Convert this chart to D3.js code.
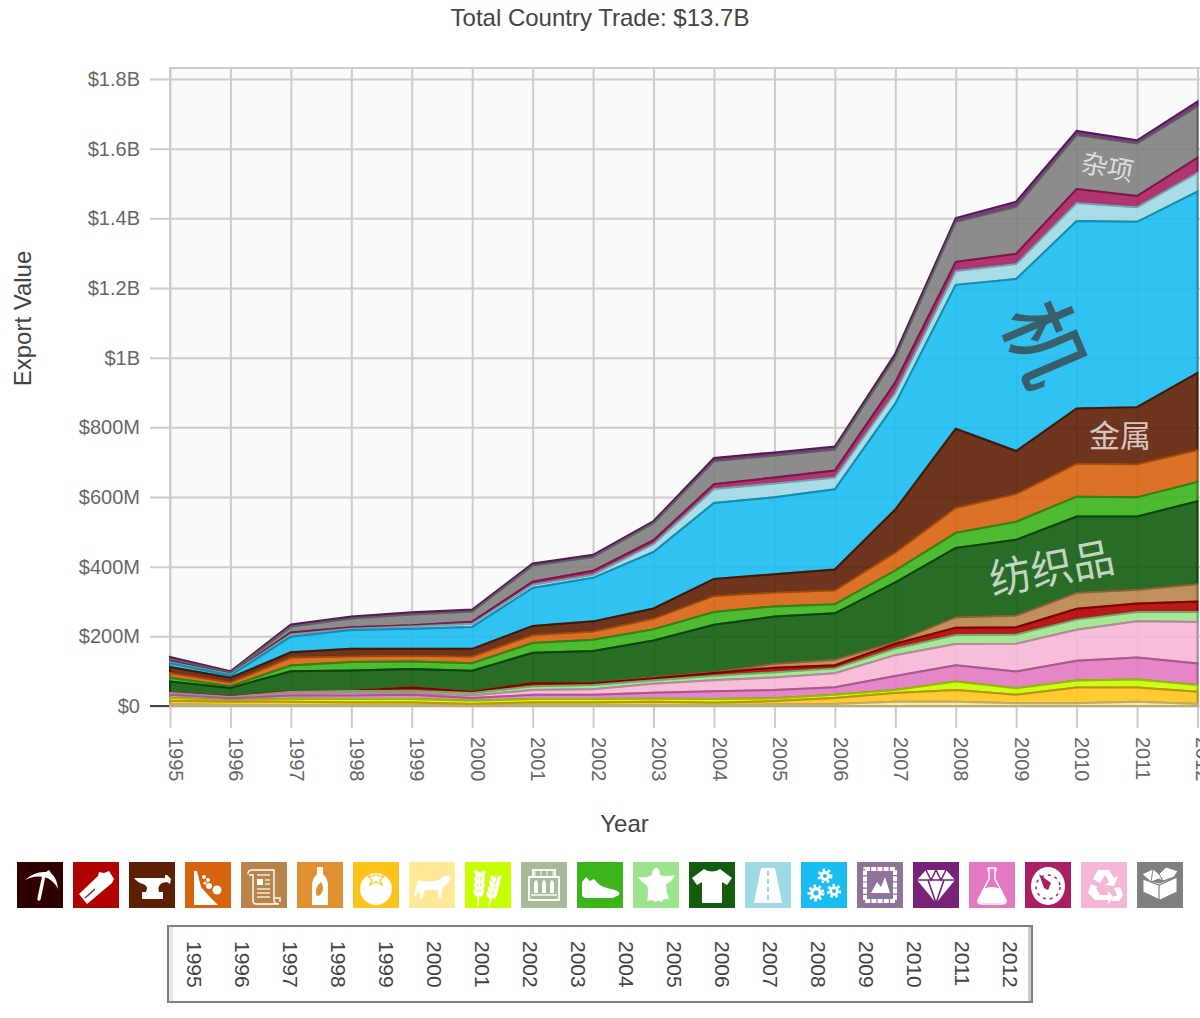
<!DOCTYPE html>
<html><head><meta charset="utf-8">
<style>html,body{margin:0;padding:0;background:#fff;overflow:hidden}svg{display:block}
text{font-family:"Liberation Sans",Helvetica,Arial,sans-serif}</style>
<script src="https://d3js.org/d3.v7.min.js"></script></head><body>
<svg id="c" width="1200" height="1018"></svg>
<script>
const years=[1995,1996,1997,1998,1999,2000,2001,2002,2003,2004,2005,2006,2007,2008,2009,2010,2011,2012];
const yTickValues=[0,200,400,600,800,1000,1200,1400,1600,1800];
const yTickLabels=["$0","$200M","$400M","$600M","$800M","$1B","$1.2B","$1.4B","$1.6B","$1.8B"];
// stacked series, bottom to top, in $M
const animal    =[5,3,3,3,3,1,3,3,3,3,4,6,12,12,8,8,12,6];
const vegetable =[10,9,9,7,7,5,7,7,9,6,10,17,25,34,24,45,41,35];
const cereal    =[9,4,9,10,10,9,10,10,9,11,8,9,9,24,19,20,23,19];
const chemicals =[8,6,9,10,12,8,12,12,17,22,24,22,40,47,48,57,63,62];
const recycled  =[4,3,6,7,5,7,14,16,26,32,36,40,60,61,80,89,104,119];
const hides     =[1,1,5,6,7,7,11,12,10,13,15,14,19,26,26,29,27,29];
const wood      =[0,1,1,1,9,4,8,5,6,8,13,9,14,21,21,31,24,30];
const paper     =[0,1,1,1,1,1,1,1,3,2,11,16,5,30,34,46,40,50];
const textiles  =[33,24,57,57,52,59,87,92,105,136,136,133,171,199,217,219,210,238];
const footwear  =[11,5,16,24,22,22,28,32,32,37,29,26,34,43,52,57,55,55];
const stone     =[14,11,23,17,16,19,23,24,31,46,40,40,52,72,80,95,95,92];
const metals    =[17,13,15,21,20,22,26,29,29,49,52,60,123,227,123,158,164,221];
const machinery =[11,7,45,54,58,63,109,125,162,218,221,230,304,413,494,538,532,521];
const transport =[3,3,6,4,6,9,9,9,23,40,40,34,32,40,43,52,42,54];
const instruments=[3,1,6,4,4,6,9,11,11,14,17,20,29,26,29,40,32,43];
const misc      =[6,4,17,25,31,29,46,40,49,66,63,60,72,115,135,155,151,147];
const precious  =[6,4,6,6,6,6,6,6,6,9,9,9,11,11,15,12,9,14];
const seriesNames=["animal","vegetable","cereal","chemicals","recycled","hides","wood","paper","textiles","footwear","stone","metals","machinery","transport","instruments","misc","precious"];
const seriesValues=[animal,vegetable,cereal,chemicals,recycled,hides,wood,paper,textiles,footwear,stone,metals,machinery,transport,instruments,misc,precious];
const seriesColors=["#ffe999","#ffc41c","#c8ff00","#e279c1","#f6b6d5","#9be38c","#b00000","#b8844a","#125c10","#3cb41c","#d8630f","#5e2005","#19bdf0","#9ed9e6","#a81f62","#808080","#752278"];
const legendColors=["#300000","#b00000","#5e2005","#d8630f","#b8844a","#e09030","#ffc41c","#ffe999","#c8ff00","#a5bb99","#3cb41c","#9be38c","#125c10","#9ed9e6","#19bdf0","#8f739b","#752278","#e279c1","#a81f62","#f6b6d5","#808080"];
const title="Total Country Trade: $13.7B";
const areaLabels=[
 {t:"杂项",x:1108,y:165,s:26,r:11,c:"rgba(255,255,255,.72)",w:400},
 {t:"机",x:1050,y:341,s:82,r:67,c:"rgba(58,88,100,.95)",w:500},
 {t:"金属",x:1120,y:433,s:31,r:0,c:"rgba(255,255,255,.72)",w:400},
 {t:"纺织品",x:1051,y:565,s:42,r:-11,c:"rgba(255,255,255,.72)",w:400}];

const svg=d3.select("#c");
const x=d3.scaleLinear().domain([1995,2012]).range([170,1197.5]);
const y=d3.scaleLinear().domain([0,1800]).range([706,79]);
const plotTop=68;

svg.append("rect").attr("x",170).attr("y",plotTop).attr("width",1030).attr("height",706-plotTop).attr("fill","#fafafa");
svg.append("path").attr("d",`M170,706V${plotTop}H1200`).attr("fill","none").attr("stroke","#ccc").attr("stroke-width",2);

const gy=svg.append("g").attr("transform","translate(170,0)")
 .call(d3.axisLeft(y).tickValues(yTickValues).tickSize(0).tickPadding(30).tickFormat((d,i)=>yTickLabels[i]));
gy.select(".domain").remove();
gy.selectAll("line").attr("x1",-20).attr("x2",1030).attr("stroke","#ccc").attr("stroke-width",2);
gy.selectAll("text").attr("font-size",20).attr("fill","#666").style("font-family",'"Liberation Sans"');

const gx=svg.append("g").attr("transform","translate(0,706)")
 .call(d3.axisBottom(x).tickValues(years).tickFormat(d3.format("d")).tickSize(0));
gx.select(".domain").remove();
gx.selectAll("line").attr("y1",-638).attr("y2",22).attr("stroke","#ccc").attr("stroke-width",2);
gx.selectAll("text").attr("font-size",20).attr("fill","#666").attr("dy",null)
 .attr("text-anchor","start").attr("y",0).attr("x",0).attr("dominant-baseline","middle")
 .attr("transform","translate(3.5,31) rotate(90)").style("font-family",'"Liberation Sans"');

svg.append("line").attr("x1",150).attr("x2",170).attr("y1",y(0)).attr("y2",y(0)).attr("stroke","#444").attr("stroke-width",2);

const rows=years.map((yr,i)=>{const o={year:yr};seriesNames.forEach((n,k)=>o[n]=seriesValues[k][i]);return o;});
const stack=d3.stack().keys(seriesNames)(rows);
const area=d3.area().x(d=>x(d.data.year)).y0(d=>y(d[0])).y1(d=>y(d[1]));
// upper layers are painted first, so each boundary shows the stroke of the layer below it
svg.append("g").selectAll("path").data(stack.slice().reverse()).join("path")
 .attr("d",area)
 .attr("fill",d=>seriesColors[d.index]).attr("fill-opacity",.9)
 .attr("stroke",d=>d3.color(seriesColors[d.index]).darker(.85)).attr("stroke-width",2).attr("stroke-linejoin","miter");

svg.append("g").selectAll("text").data(areaLabels).join("text")
 .attr("transform",d=>`translate(${d.x},${d.y}) rotate(${d.r})`)
 .attr("text-anchor","middle").attr("dominant-baseline","central")
 .attr("font-size",d=>d.s).attr("font-weight",d=>d.w).attr("fill",d=>d.c).style("font-family",'"Noto Sans CJK SC"').text(d=>d.t);

svg.append("text").attr("x",600).attr("y",26).attr("text-anchor","middle").attr("font-size",24).attr("fill","#444").text(title);
svg.append("text").attr("transform","translate(31,318.5) rotate(-90)").attr("text-anchor","middle").attr("font-size",24).attr("fill","#444").text("Export Value");
svg.append("text").attr("x",624.5).attr("y",832).attr("text-anchor","middle").attr("font-size",24).attr("fill","#444").text("Year");

// legend icons: white glyphs in a 46-unit box
const W="#fff";
function gear(g,c,cx,cy,r){
 g.append("circle").attr("cx",cx).attr("cy",cy).attr("r",r).attr("fill",W);
 g.append("circle").attr("cx",cx).attr("cy",cy).attr("r",r+1.2).attr("fill","none").attr("stroke",W).attr("stroke-width",2.4).attr("stroke-dasharray","2.6 2.6");
 g.append("circle").attr("cx",cx).attr("cy",cy).attr("r",r*.42).attr("fill",c);
}
const iconDraw=[
 (g,c)=>{g.append("path").attr("d","M22 37L27 13").attr("stroke",W).attr("stroke-width",3.4).attr("stroke-linecap","round");
  g.append("path").attr("d","M8 18Q18 9 29 10L32 8L34 11Q40 16 41 27Q36 17 27 15Q17 13 8 18Z").attr("fill",W);},
 (g,c)=>{g.append("path").attr("d","M6 32L25 14L26 10L31 11L36 9L41 17L39 21L14 42Z").attr("fill",W);
  g.append("path").attr("d","M12 36L22 27").attr("stroke",c).attr("stroke-width",1.2);},
 (g,c)=>{g.append("path").attr("d","M5 16H36V13H38L42 17L41 22L38 20L33 21Q28 24 30 30H34V37H13V30H17Q20 24 14 22Q9 21 5 16Z").attr("fill",W);},
 (g,c)=>{g.append("path").attr("d","M9 9H12L16 25L24 34L33 43H9Z").attr("fill",W);
  [[19,15,2],[23,18,2],[24,24,3],[32,28,4.5],[20,21,1.6]].forEach(p=>g.append("circle").attr("cx",p[0]).attr("cy",p[1]).attr("r",p[2]).attr("fill",W));},
 (g,c)=>{g.append("path").attr("d","M7 12Q7 8 11 8H33V38Q33 42 38 42H15Q12 42 12 38V13H8M33 36H39V40").attr("fill","none").attr("stroke",W).attr("stroke-width",1.4);
  g.append("rect").attr("x",16).attr("y",17).attr("width",6).attr("height",6).attr("fill",W);
  ["M16 13H29","M24 18H29","M24 22H29","M16 27H29","M16 31H29","M16 35H29"].forEach(d=>g.append("path").attr("d",d).attr("stroke",W).attr("stroke-width",1.2));},
 (g,c)=>{g.append("path").attr("d","M20 5H26V12Q31 17 31 23V43H15V23Q15 17 20 12Z").attr("fill",W);
  g.append("path").attr("d","M24 20Q28 26 24 32Q21 36 19 32Q18 25 24 20Z").attr("fill",c);},
 (g,c)=>{g.append("circle").attr("cx",23).attr("cy",27).attr("r",16).attr("fill",W);
  g.append("path").attr("d","M23 8L25 14L31 14L27 18L29 23L23 20L17 23L19 18L15 14L21 14Z").attr("fill",W).attr("stroke",c).attr("stroke-width",1.2);},
 (g,c)=>{g.append("path").attr("d","M5 34Q8 22 9 18Q18 21 30 18L35 14L37 13L42 16L39 21L34 25L32 36H30L28 28H16L13 37H11L11 28L7 34Z").attr("fill",W);},
 (g,c)=>{[[15,9,13,44],[31,14,24,44]].forEach(p=>{g.append("path").attr("d",`M${p[0]} ${p[1]}L${p[2]} ${p[3]}`).attr("stroke",W).attr("stroke-width",1.6);
   for(let k=0;k<4;k++){const t=k/5,cx=p[0]+(p[2]-p[0])*t,cy=p[1]+3+(p[3]-p[1])*t*.9;
    g.append("ellipse").attr("cx",cx-3).attr("cy",cy).attr("rx",2).attr("ry",4).attr("fill",W).attr("transform",`rotate(-25 ${cx-3} ${cy})`);
    g.append("ellipse").attr("cx",cx+3).attr("cy",cy).attr("rx",2).attr("ry",4).attr("fill",W).attr("transform",`rotate(25 ${cx+3} ${cy})`);}
  });},
 (g,c)=>{g.append("path").attr("d","M8 15H38V38H8ZM12 8H34V15H12Z").attr("fill","none").attr("stroke",W).attr("stroke-width",1.8);
  [14,20,26,32].forEach(v=>g.append("path").attr("d",`M${v} 8V15`).attr("stroke",W).attr("stroke-width",1));
  [15,23,31].forEach(v=>g.append("path").attr("d",`M${v-2} 31V21Q${v} 15 ${v+2} 21V31Z`).attr("fill",W));
  g.append("path").attr("d","M10 33H36").attr("stroke",W).attr("stroke-width",1.4);},
 (g,c)=>{g.append("path").attr("d","M5 20L9 15L13 19L17 17Q22 24 30 26L38 28Q44 30 42 33L36 36H8L5 34Z").attr("fill",W);},
 (g,c)=>{g.append("path").attr("d","M23 6Q27 6 27 13Q33 15 42 13Q39 20 33 22Q33 30 36 37Q31 36 28 40Q25 37 23 40Q19 37 14 39Q16 30 14 23Q8 20 5 15Q14 16 19 13Q19 7 23 6Z").attr("fill",W);},
 (g,c)=>{g.append("path").attr("d","M15 7Q23 12 31 7L43 16L38 23L33 20V41H13V20L8 23L3 16Z").attr("fill",W);},
 (g,c)=>{g.append("path").attr("d","M16 6H30L37 41H9Z").attr("fill",W);
  g.append("path").attr("d","M23 9V40").attr("stroke",c).attr("stroke-width",2).attr("stroke-dasharray","5 3");},
 (g,c)=>{gear(g,c,24,14,5);gear(g,c,15,31,6);gear(g,c,33,29,4.8);},
 (g,c)=>{g.append("rect").attr("x",8).attr("y",7).attr("width",30).attr("height",32).attr("fill","none").attr("stroke",W).attr("stroke-width",4).attr("stroke-dasharray","5 1.2").attr("stroke-linejoin","round");
  g.append("path").attr("d","M14 31L20 20L24 25L28 15L33 31Z").attr("fill",W);},
 (g,c)=>{g.append("path").attr("d","M13 8H33L42 18L23 41L4 18Z").attr("fill",W);
  g.append("path").attr("d","M4 18H42M15 18L23 41L31 18M13 8L18 18L23 8L28 18L33 8").attr("fill","none").attr("stroke",c).attr("stroke-width",1.6);},
 (g,c)=>{g.append("path").attr("d","M19 6H27V8H26V17L37 38Q38 42 33 42H13Q8 42 9 38L20 17V8H19Z").attr("fill","none").attr("stroke",W).attr("stroke-width",1.4);
  g.append("path").attr("d","M14 27Q23 23 32 27L36 38Q37 41 33 41H13Q9 41 10 38Z").attr("fill",W);},
 (g,c)=>{g.append("ellipse").attr("cx",23).attr("cy",24).attr("rx",17).attr("ry",19).attr("fill",W);
  g.append("circle").attr("cx",23).attr("cy",25).attr("r",12).attr("fill","none").attr("stroke",c).attr("stroke-width",1.5).attr("stroke-dasharray","3 4");
  g.append("path").attr("d","M14 12L26 21L23 28L19 26Z").attr("fill",c);},
 (g,c)=>{["M17 8H28L33 16L37 14L33 24L24 23L28 20L24 13L19 21L12 17Z","M10 22L17 25L15 26L19 33H27V29L32 35L27 42V38H14L7 31Z","M33 26L39 25L42 33L38 39H30L32 35L36 33Z"].forEach(d=>g.append("path").attr("d",d).attr("fill",W));},
 (g,c)=>{g.append("path").attr("d","M22 21L40 15V30L23 38L6 30V17Z").attr("fill",W).attr("stroke",c).attr("stroke-width",1);
  g.append("path").attr("d","M6 17L22 23L40 15M22 23V38").attr("fill","none").attr("stroke",c).attr("stroke-width",1.2);
  g.append("path").attr("d","M5 12L16 7L22 12L29 5L41 9L37 15L26 19L22 17L14 20Z").attr("fill",W).attr("stroke",c).attr("stroke-width",1);
  g.append("path").attr("d","M22 12L26 19M16 7L14 20").attr("stroke",c).attr("stroke-width",1);}
];
const lg=svg.append("g");
legendColors.forEach((c,i)=>{
 const g=lg.append("g").attr("transform",`translate(${17+56*i},862)`);
 g.append("rect").attr("width",46).attr("height",46).attr("fill",c);
 iconDraw[i](g,c);
});

// timeline
const tx=d3.scaleLinear().domain([1995,2012]).range([192.5,1008.5]);
svg.append("rect").attr("x",168).attr("y",926).attr("width",864).attr("height",76).attr("fill","#fff").attr("stroke","#808080").attr("stroke-width",2);
svg.append("rect").attr("x",169).attr("y",927).attr("width",4).attr("height",74).attr("fill","#e8e8e8");
svg.append("rect").attr("x",1028).attr("y",927).attr("width",3).attr("height",74).attr("fill","#ccc");
svg.append("g").selectAll("text").data(years).join("text")
 .attr("transform",d=>`translate(${tx(d)},941) rotate(90)`).attr("dominant-baseline","middle")
 .attr("font-size",21).attr("fill","#444").text(d=>d);
</script></body></html>
